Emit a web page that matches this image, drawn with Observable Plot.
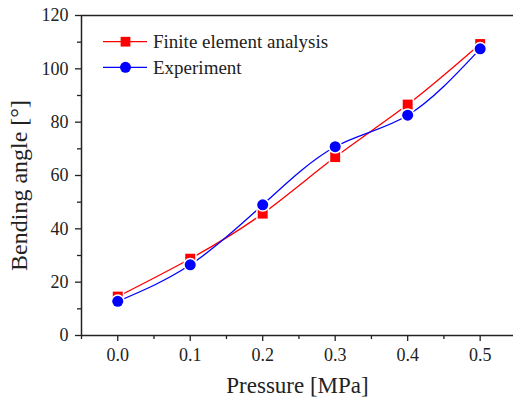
<!DOCTYPE html>
<html><head><meta charset="utf-8">
<script src="https://cdn.jsdelivr.net/npm/d3@7"></script>
<script src="https://cdn.jsdelivr.net/npm/@observablehq/plot@0.6"></script>
<style>
body{margin:0;background:#fff;}
#wrap{position:relative;width:513px;height:400px;overflow:hidden;}
#legend{position:absolute;left:0;top:0;}
#wrap svg, #wrap svg text, #wrap svg g{font-family:'Liberation Serif','Times New Roman',serif !important;}
</style></head><body><div id="wrap"></div>
<script>
const pressure = [0, 0.1, 0.2, 0.3, 0.4, 0.5];
const feaAngle = [14.6, 28.8, 45.7, 66.9, 86.6, 109.3];
const expAngle = [12.8, 26.5, 49.0, 70.8, 82.6, 107.5];
const seriesNames = ["Finite element analysis", "Experiment"];
const seriesColors = ["#ff0000", "#0000ff"];
const seriesSymbols = ["square", "circle"];
const xTicks = [0, 0.1, 0.2, 0.3, 0.4, 0.5];
const xMinor = [-0.05, 0.05, 0.15, 0.25, 0.35, 0.45];
const yTicks = [0, 20, 40, 60, 80, 100, 120];
const yMinor = [10, 30, 50, 70, 90, 110];
const xLabel = "Pressure [MPa]";
const yLabel = "Bending angle [°]";

const fea = pressure.map((p, i) => ({p, v: feaAngle[i]}));
const exp = pressure.map((p, i) => ({p, v: expAngle[i]}));

const font = "'Liberation Serif', 'Times New Roman', serif";
const ink = "#222";

const chart = Plot.plot({
  width: 513, height: 400,
  marginLeft: 81, marginRight: 0, marginTop: 15, marginBottom: 65,
  style: {fontFamily: font, color: ink, background: "#fff"},
  x: {domain: [-0.05, 0.546]},
  y: {domain: [0, 120]},
  marks: [
    Plot.axisX({ticks: xTicks, tickFormat: d3.format(".1f"), tickSize: 6, tickPadding: 7, fontSize: 18, fontFamily: font, label: null, stroke: ink, strokeWidth: 1.3}),
    Plot.axisX({ticks: xMinor, tickFormat: () => "", tickSize: 4, label: null, stroke: ink, strokeWidth: 1.3}),
    Plot.axisY({ticks: yTicks, tickFormat: d3.format("d"), tickSize: 6, tickPadding: 7, fontSize: 18, fontFamily: font, label: null, stroke: ink, strokeWidth: 1.3}),
    Plot.axisY({ticks: yMinor, tickFormat: () => "", tickSize: 4, label: null, stroke: ink, strokeWidth: 1.3}),
    Plot.ruleX([-0.05], {stroke: ink, strokeWidth: 1.5}),
    Plot.ruleY([0, 120], {stroke: ink, strokeWidth: 1.5}),
    Plot.line(fea, {x: "p", y: "v", curve: "natural", stroke: seriesColors[0], strokeWidth: 1.3}),
    Plot.line(exp, {x: "p", y: "v", curve: "natural", stroke: seriesColors[1], strokeWidth: 1.3}),
    Plot.dot(fea, {x: "p", y: "v", symbol: seriesSymbols[0], r: 5.6, fill: seriesColors[0], stroke: "white", strokeWidth: 3, paintOrder: "stroke"}),
    Plot.dot(exp, {x: "p", y: "v", symbol: seriesSymbols[1], r: 5.5, fill: seriesColors[1], stroke: "white", strokeWidth: 3, paintOrder: "stroke"}),
    Plot.text([xLabel], {text: d => d, frameAnchor: "middle", dy: 210, fontSize: 23, fontFamily: font, fill: ink, lineAnchor: "middle"}),
    Plot.text([yLabel], {text: d => d, frameAnchor: "middle", rotate: -90, dx: -278, dy: 10, fontSize: 24, fontFamily: font, fill: ink, lineAnchor: "middle"})
  ]
});
const wrap = document.getElementById("wrap");
wrap.appendChild(chart);
d3.select(chart).selectAll("text").style("font-family", font);

// legend overlay
const lg = d3.select(wrap).append("svg").attr("id", "legend").attr("width", 513).attr("height", 400);
seriesNames.forEach((name, i) => {
  const y = 41.7 + i * 25.6;
  lg.append("line").attr("x1", 103).attr("x2", 147).attr("y1", y).attr("y2", y)
    .attr("stroke", seriesColors[i]).attr("stroke-width", 1.3);
  lg.append("path").attr("transform", `translate(125.5,${y})`)
    .attr("d", d3.symbol(seriesSymbols[i] === "square" ? d3.symbolSquare : d3.symbolCircle, Math.PI * 5.5 * 5.5)())
    .attr("fill", seriesColors[i]);
  lg.append("text").attr("x", 153).attr("y", y).attr("dy", "0.35em")
    .attr("font-family", font).attr("font-size", 19).attr("fill", ink).text(name);
});
</script></body></html>
